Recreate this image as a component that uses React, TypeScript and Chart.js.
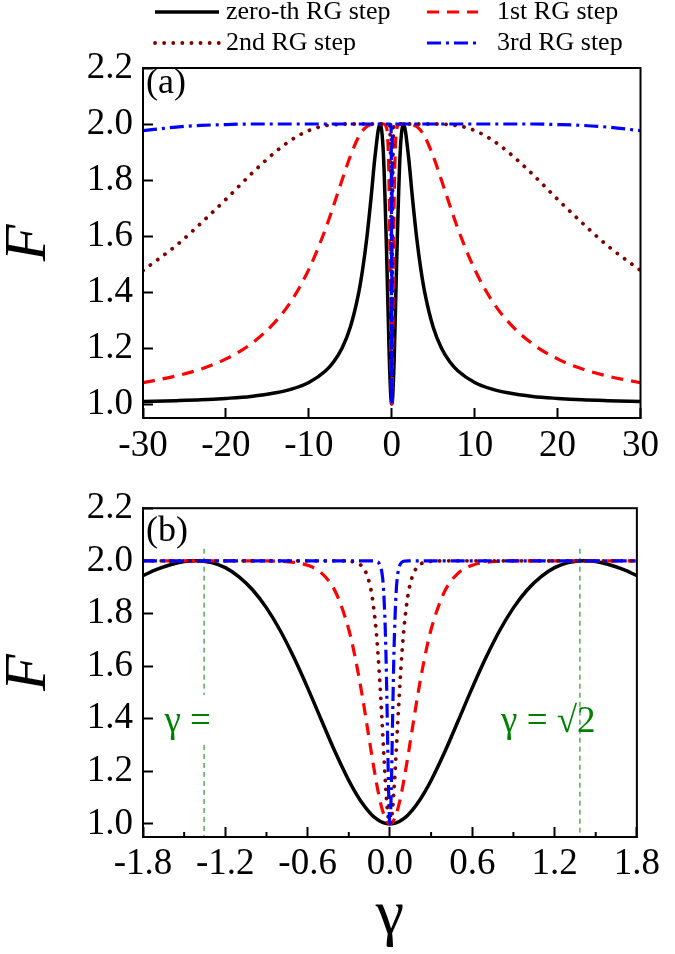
import React, { useEffect, useRef } from 'react';
import { Chart, registerables } from 'chart.js';

Chart.register(...registerables);

const SERIF = "'Liberation Serif', 'Times New Roman', Times, serif";
Chart.defaults.font.family = SERIF;

// ---------- series names ----------
const seriesNames = ['zero-th RG step', '1st RG step', '2nd RG step', '3rd RG step'];

// ---------- panel (a): gamma from -30 to 30 ----------
const xA = [-30, -26, -23, -20, -17, -14, -12, -10, -8, -7, -6, -5, -4, -3.5, -3, -2.5, -2, -1.414, -1, -0.6, -0.3, -0.1, -0.03, 0, 0.03, 0.1, 0.3, 0.6, 1, 1.414, 2, 2.5, 3, 3.5, 4, 5, 6, 7, 8, 10, 12, 14, 17, 20, 23, 26, 30];
const zeroA = [1.009, 1.012, 1.015, 1.020, 1.027, 1.040, 1.054, 1.077, 1.118, 1.151, 1.199, 1.274, 1.395, 1.483, 1.595, 1.735, 1.889, 2.000, 1.889, 1.517, 1.165, 1.020, 1.002, 1.000, 1.002, 1.020, 1.165, 1.517, 1.889, 2.000, 1.889, 1.735, 1.595, 1.483, 1.395, 1.274, 1.199, 1.151, 1.118, 1.077, 1.054, 1.040, 1.027, 1.020, 1.015, 1.012, 1.009];
const firstA = [1.076, 1.100, 1.125, 1.161, 1.214, 1.295, 1.373, 1.481, 1.624, 1.710, 1.799, 1.885, 1.954, 1.977, 1.991, 1.998, 2.000, 2.000, 2.000, 1.983, 1.739, 1.161, 1.016, 1.000, 1.016, 1.161, 1.739, 1.983, 2.000, 2.000, 2.000, 1.998, 1.991, 1.977, 1.954, 1.885, 1.799, 1.710, 1.624, 1.481, 1.373, 1.295, 1.214, 1.161, 1.125, 1.100, 1.076];
const secondA = [1.477, 1.566, 1.646, 1.731, 1.820, 1.901, 1.945, 1.977, 1.994, 1.997, 2.000, 2.000, 2.000, 2.000, 2.000, 2.000, 2.000, 2.000, 2.000, 2.000, 1.998, 1.731, 1.133, 1.000, 1.133, 1.731, 1.998, 2.000, 2.000, 2.000, 2.000, 2.000, 2.000, 2.000, 2.000, 2.000, 2.000, 1.997, 1.994, 1.977, 1.945, 1.901, 1.820, 1.731, 1.646, 1.566, 1.477];
const thirdA = [1.976, 1.989, 1.995, 1.998, 2.000, 2.000, 2.000, 2.000, 2.000, 2.000, 2.000, 2.000, 2.000, 2.000, 2.000, 2.000, 2.000, 2.000, 2.000, 2.000, 2.000, 1.998, 1.666, 1.000, 1.666, 1.998, 2.000, 2.000, 2.000, 2.000, 2.000, 2.000, 2.000, 2.000, 2.000, 2.000, 2.000, 2.000, 2.000, 2.000, 2.000, 2.000, 2.000, 1.998, 1.995, 1.989, 1.976];

// ---------- panel (b): gamma from -1.8 to 1.8 ----------
const xB = [-1.8, -1.7, -1.6, -1.5, -1.414, -1.3, -1.2, -1.1, -1, -0.9, -0.8, -0.7, -0.6, -0.5, -0.4, -0.3, -0.25, -0.2, -0.16, -0.13, -0.1, -0.08, -0.06, -0.045, -0.03, -0.02, -0.01, 0, 0.01, 0.02, 0.03, 0.045, 0.06, 0.08, 0.1, 0.13, 0.16, 0.2, 0.25, 0.3, 0.4, 0.5, 0.6, 0.7, 0.8, 0.9, 1, 1.1, 1.2, 1.3, 1.414, 1.5, 1.6, 1.7, 1.8];
const zeroB = [1.944, 1.967, 1.985, 1.997, 2.000, 1.993, 1.974, 1.939, 1.889, 1.821, 1.735, 1.632, 1.517, 1.395, 1.274, 1.165, 1.118, 1.077, 1.050, 1.033, 1.020, 1.013, 1.007, 1.004, 1.002, 1.001, 1.000, 1.000, 1.000, 1.001, 1.002, 1.004, 1.007, 1.013, 1.020, 1.033, 1.050, 1.077, 1.118, 1.165, 1.274, 1.395, 1.517, 1.632, 1.735, 1.821, 1.889, 1.939, 1.974, 1.993, 2.000, 1.997, 1.985, 1.967, 1.944];
const firstB = [2.000, 2.000, 2.000, 2.000, 2.000, 2.000, 2.000, 2.000, 2.000, 2.000, 1.998, 1.994, 1.983, 1.954, 1.885, 1.739, 1.624, 1.481, 1.351, 1.253, 1.161, 1.107, 1.062, 1.036, 1.016, 1.007, 1.002, 1.000, 1.002, 1.007, 1.016, 1.036, 1.062, 1.107, 1.161, 1.253, 1.351, 1.481, 1.624, 1.739, 1.885, 1.954, 1.983, 1.994, 1.998, 2.000, 2.000, 2.000, 2.000, 2.000, 2.000, 2.000, 2.000, 2.000, 2.000];
const secondB = [2.000, 2.000, 2.000, 2.000, 2.000, 2.000, 2.000, 2.000, 2.000, 2.000, 2.000, 2.000, 2.000, 2.000, 2.000, 1.998, 1.994, 1.977, 1.935, 1.865, 1.731, 1.592, 1.414, 1.268, 1.133, 1.062, 1.016, 1.000, 1.016, 1.062, 1.133, 1.268, 1.414, 1.592, 1.731, 1.865, 1.935, 1.977, 1.994, 1.998, 2.000, 2.000, 2.000, 2.000, 2.000, 2.000, 2.000, 2.000, 2.000, 2.000, 2.000, 2.000, 2.000, 2.000, 2.000];
const thirdB = [2.000, 2.000, 2.000, 2.000, 2.000, 2.000, 2.000, 2.000, 2.000, 2.000, 2.000, 2.000, 2.000, 2.000, 2.000, 2.000, 2.000, 2.000, 2.000, 2.000, 1.998, 1.991, 1.960, 1.879, 1.666, 1.414, 1.133, 1.000, 1.133, 1.414, 1.666, 1.879, 1.960, 1.991, 1.998, 2.000, 2.000, 2.000, 2.000, 2.000, 2.000, 2.000, 2.000, 2.000, 2.000, 2.000, 2.000, 2.000, 2.000, 2.000, 2.000, 2.000, 2.000, 2.000, 2.000];

// ---------- guide lines in panel (b) ----------
const guideLeftX = [-1.355, -1.355, -1.355, -1.355, -1.355];
const guideLeftY = [2.046, 1.49, null, 1.30, 0.95];
const guideRightX = [1.385, 1.385];
const guideRightY = [2.046, 0.95];
const annotTexts = ['γ =', 'γ = √2'];
const annotX = [-1.644, 0.81];
const annotY = [1.35, 1.35];

// ---------- ticks ----------
const yTicks = [1.0, 1.2, 1.4, 1.6, 1.8, 2.0, 2.2];
const xTicksA = [-30, -20, -10, 0, 10, 20, 30];
const xTicksB = [-1.8, -1.2, -0.6, 0, 0.6, 1.2, 1.8];
const xMinorB = [-1.5, -0.9, -0.3, 0.3, 0.9, 1.5];

const lineStyles = [
  { color: '#000000', width: 3.5, dash: [] as number[], cap: 'butt' },
  { color: '#ff0000', width: 3.2, dash: [12, 8], cap: 'butt' },
  { color: '#800000', width: 3.8, dash: [0.1, 9], cap: 'round' },
  { color: '#0000ff', width: 3.2, dash: [14, 5, 3, 5], cap: 'butt' },
];

function pts(xs: number[], ys: (number | null)[]) {
  return xs.map((x, i) => ({ x, y: ys[i] }));
}

function curveDatasets(xs: number[], series: number[][]) {
  return series.map((ys, i) => ({
    label: seriesNames[i],
    data: pts(xs, ys),
    borderColor: lineStyles[i].color,
    backgroundColor: lineStyles[i].color,
    borderWidth: lineStyles[i].width,
    borderDash: lineStyles[i].dash,
    borderCapStyle: lineStyles[i].cap,
    pointRadius: 0,
    pointHoverRadius: 0,
    fill: false,
    cubicInterpolationMode: 'monotone',
    order: 4 - i,
  }));
}

function guideDataset(xs: number[], ys: (number | null)[]) {
  return {
    label: 'guide',
    data: pts(xs, ys),
    borderColor: '#008000',
    borderWidth: 1,
    borderDash: [5, 4],
    pointRadius: 0,
    fill: false,
    spanGaps: false,
    order: 5,
  };
}

function yScale() {
  return {
    type: 'linear',
    min: 0.95,
    max: 2.2,
    afterBuildTicks: (s: any) => {
      s.ticks = yTicks.map((v) => ({ value: v }));
    },
    afterFit: (s: any) => {
      s.width = 143;
    },
    grid: { drawOnChartArea: false, drawTicks: true, tickLength: -10, tickWidth: 2, tickColor: '#000' },
    border: { display: true, color: '#000', width: 2 },
    ticks: {
      padding: 20,
      color: '#000',
      autoSkip: false,
      font: { family: SERIF, size: 37 },
      callback: (v: any) => Number(v).toFixed(1),
    },
    title: {
      display: true,
      text: 'F',
      color: '#000',
      padding: { top: 9, bottom: 0 },
      font: { family: SERIF, size: 60, style: 'italic', lineHeight: 0.67 },
    },
  };
}

function framePlugin(letter: string, dy: number) {
  return {
    id: 'frame' + letter,
    afterDatasetsDraw(chart: any) {
      const { ctx, chartArea: a } = chart;
      ctx.save();
      ctx.strokeStyle = '#000';
      ctx.lineWidth = 2;
      ctx.setLineDash([]);
      ctx.strokeRect(a.left, a.top, a.right - a.left, a.bottom - a.top);
      ctx.fillStyle = '#000';
      ctx.font = `36px ${SERIF}`;
      ctx.textAlign = 'left';
      ctx.textBaseline = 'middle';
      ctx.fillText(letter, a.left + 3, a.top + dy);
      ctx.restore();
    },
  };
}

const legendPlugin = {
  id: 'rgLegend',
  afterDraw(chart: any) {
    const ctx = chart.ctx;
    const rowsY = [12, 43];
    const sampleX = [
      [155, 219],
      [427, 478],
    ];
    const textX = [226, 497];
    ctx.save();
    seriesNames.forEach((name, i) => {
      const col = i % 2;
      const row = Math.floor(i / 2);
      const st = lineStyles[i];
      const y = rowsY[row];
      ctx.beginPath();
      ctx.strokeStyle = st.color;
      ctx.lineWidth = st.width;
      ctx.lineCap = st.cap;
      ctx.setLineDash(st.dash);
      ctx.moveTo(sampleX[col][0], y);
      ctx.lineTo(sampleX[col][1], y);
      ctx.stroke();
      ctx.setLineDash([]);
      ctx.fillStyle = '#000';
      ctx.font = `26px ${SERIF}`;
      ctx.textAlign = 'left';
      ctx.textBaseline = 'alphabetic';
      ctx.fillText(name, textX[col], y + 7);
    });
    ctx.restore();
  },
};

const annotPlugin = {
  id: 'annotB',
  afterDatasetsDraw(chart: any) {
    const { ctx, chartArea } = chart;
    const x = chart.scales.x;
    const y = chart.scales.y;
    ctx.save();
    ctx.fillStyle = '#008000';
    ctx.font = `37px ${SERIF}`;
    ctx.textAlign = 'left';
    ctx.textBaseline = 'alphabetic';
    annotTexts.forEach((t, i) => {
      ctx.fillText(t, x.getPixelForValue(annotX[i]), y.getPixelForValue(annotY[i]));
    });
    ctx.strokeStyle = '#000';
    ctx.lineWidth = 2;
    ctx.setLineDash([]);
    xMinorB.forEach((v) => {
      const px = x.getPixelForValue(v);
      ctx.beginPath();
      ctx.moveTo(px, chartArea.bottom);
      ctx.lineTo(px, chartArea.bottom - 5);
      ctx.stroke();
    });
    ctx.restore();
  },
};

function configA(): any {
  return {
    type: 'line',
    data: { datasets: curveDatasets(xA, [zeroA, firstA, secondA, thirdA]) },
    options: {
      animation: false,
      responsive: false,
      devicePixelRatio: 1,
      events: [],
      layout: { padding: { top: 68, right: 23, left: 0, bottom: 0 } },
      plugins: { legend: { display: false }, tooltip: { enabled: false } },
      scales: {
        x: {
          type: 'linear',
          min: -30,
          max: 30,
          afterBuildTicks: (s: any) => {
            s.ticks = xTicksA.map((v) => ({ value: v }));
          },
          afterFit: (s: any) => {
            s.height = 48;
          },
          grid: { drawOnChartArea: false, drawTicks: true, tickLength: -10, tickWidth: 2, tickColor: '#000' },
          border: { display: true, color: '#000', width: 2 },
          ticks: {
            padding: 16,
            color: '#000',
            autoSkip: false,
            maxRotation: 0,
            font: { family: SERIF, size: 37 },
            callback: (v: any) => String(v),
          },
        },
        y: yScale(),
      },
    },
    plugins: [framePlugin('(a)', 16), legendPlugin],
  };
}

function configB(): any {
  return {
    type: 'line',
    data: {
      datasets: [
        ...curveDatasets(xB, [zeroB, firstB, secondB, thirdB]),
        guideDataset(guideLeftX, guideLeftY),
        guideDataset(guideRightX, guideRightY),
      ],
    },
    options: {
      animation: false,
      responsive: false,
      devicePixelRatio: 1,
      events: [],
      layout: { padding: { top: 22, right: 23, left: 0, bottom: 0 } },
      plugins: { legend: { display: false }, tooltip: { enabled: false } },
      scales: {
        x: {
          type: 'linear',
          min: -1.8,
          max: 1.8,
          afterBuildTicks: (s: any) => {
            s.ticks = xTicksB.map((v) => ({ value: v }));
          },
          afterFit: (s: any) => {
            s.height = 117;
          },
          grid: { drawOnChartArea: false, drawTicks: true, tickLength: -10, tickWidth: 2, tickColor: '#000' },
          border: { display: true, color: '#000', width: 2 },
          ticks: {
            padding: 15,
            color: '#000',
            autoSkip: false,
            maxRotation: 0,
            font: { family: SERIF, size: 37 },
            callback: (v: any) => Number(v).toFixed(1),
          },
          title: {
            display: true,
            text: 'γ',
            color: '#000',
            padding: { top: 0, bottom: 6 },
            font: { family: SERIF, size: 64, lineHeight: 1 },
          },
        },
        y: yScale(),
      },
    },
    plugins: [framePlugin('(b)', 23), annotPlugin],
  };
}

export default function App() {
  const refA = useRef<HTMLCanvasElement>(null);
  const refB = useRef<HTMLCanvasElement>(null);

  useEffect(() => {
    const a = new Chart(refA.current as HTMLCanvasElement, configA());
    const b = new Chart(refB.current as HTMLCanvasElement, configB());
    return () => {
      a.destroy();
      b.destroy();
    };
  }, []);

  return (
    <div style={{ position: 'absolute', left: 0, top: 0, width: 675, height: 954, background: '#ffffff' }}>
      <canvas
        ref={refA}
        width={675}
        height={466}
        style={{ position: 'absolute', left: 0, top: 0, width: 675, height: 466, display: 'block' }}
      />
      <canvas
        ref={refB}
        width={675}
        height={488}
        style={{ position: 'absolute', left: 0, top: 466, width: 675, height: 488, display: 'block' }}
      />
    </div>
  );
}
